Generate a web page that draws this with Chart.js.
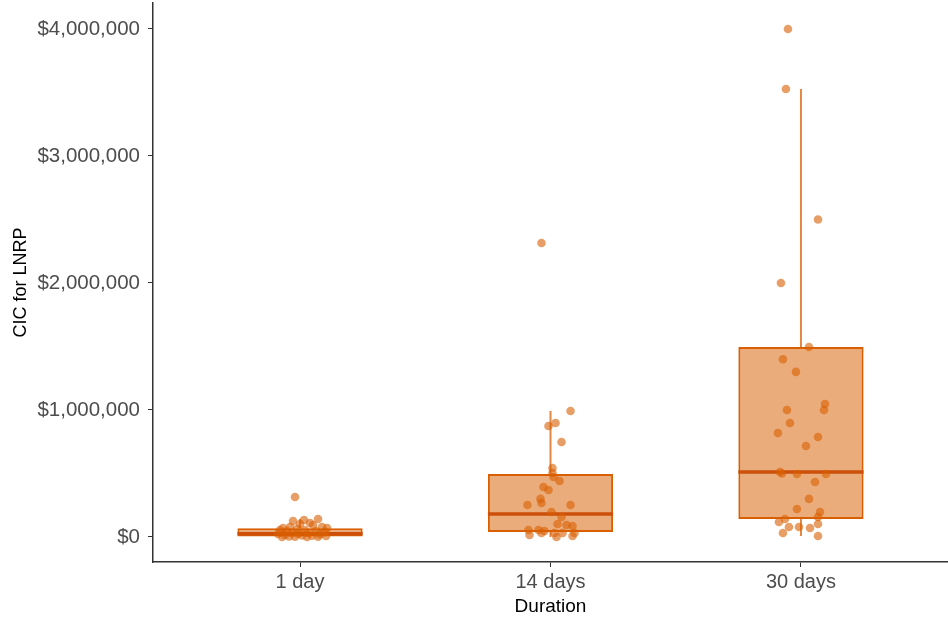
<!DOCTYPE html>
<html>
<head>
<meta charset="utf-8">
<script src="https://cdn.jsdelivr.net/npm/chart.js@4/dist/chart.umd.min.js"></script>
<style>
  html, body { margin: 0; padding: 0; background: #ffffff; }
  #wrap { width: 948px; height: 618px; position: relative; }
</style>
</head>
<body>
<div id="wrap"><canvas id="c" width="948" height="618"></canvas></div>
<script>
// ---- Data ----
const categories = ['1 day', '14 days', '30 days'];

// Box statistics per category (USD)
const whiskerLow  = [0, 0, 8000];
const q1Values    = [3000, 39000, 142000];
const medians     = [25000, 181000, 512000];
const q3Values    = [68000, 496000, 1496000];
const whiskerHigh = [142000, 992000, 3527000];

// Jittered observations: value (USD) and horizontal jitter (fraction of category step)
const day1Values = [315000, 142000, 134000, 126000, 110000, 94000, 102000, 79000, 79000, 71000, 71000, 63000, 55000, 47000, 55000, 47000, 40000, 31000, 31000, 24000, 24000, 20000, 16000, 12000, 10000, 8000, 5000, 3000, 2000, 1000, 0];
const day1Jitter = [-0.020, 0.072, 0.016, -0.028, 0.040, 0.052, 0.000, -0.040, 0.088, -0.068, 0.108, -0.012, -0.080, -0.052, 0.020, 0.064, 0.100, -0.032, 0.032, -0.088, -0.008, 0.080, -0.060, 0.008, 0.048, 0.104, -0.044, -0.020, 0.072, -0.072, 0.028];

const day14Values = [2315000, 992000, 874000, 898000, 748000, 543000, 504000, 472000, 441000, 394000, 370000, 300000, 268000, 252000, 252000, 197000, 157000, 102000, 94000, 87000, 55000, 55000, 47000, 16000, 31000, 31000, 0, 31000, 31000, 8000];
const day14Jitter = [-0.036, 0.080, -0.008, 0.020, 0.044, 0.008, 0.008, 0.012, 0.036, -0.028, -0.008, -0.040, -0.036, -0.092, 0.080, 0.004, 0.044, 0.028, 0.064, 0.088, -0.088, -0.048, -0.024, -0.084, -0.036, 0.016, 0.024, 0.048, 0.096, 0.088];

const day30Values = [4000000, 3527000, 2500000, 2000000, 1496000, 1400000, 1300000, 1047000, 1000000, 1000000, 898000, 819000, 787000, 717000, 512000, 500000, 496000, 496000, 433000, 300000, 220000, 197000, 157000, 142000, 118000, 102000, 79000, 79000, 71000, 31000, 8000];
const day30Jitter = [-0.052, -0.060, 0.068, -0.080, 0.032, -0.072, -0.020, 0.096, 0.092, -0.056, -0.044, -0.092, 0.068, 0.020, -0.084, -0.076, -0.016, 0.100, 0.056, 0.032, -0.016, 0.076, 0.068, -0.064, -0.088, 0.068, -0.048, -0.008, 0.036, -0.072, 0.068];

const yTickValues = [0, 1000000, 2000000, 3000000, 4000000];

// ---- Build datasets from the arrays ----
const groupValues = [day1Values, day14Values, day30Values];
const groupJitter = [day1Jitter, day14Jitter, day30Jitter];
const boxHalf = 0.25;

const pointData = [];
groupValues.forEach((vals, g) => {
  vals.forEach((v, i) => pointData.push({ x: g + 1 + groupJitter[g][i], y: v }));
});

const boxData = categories.map((c, i) => ({ x: i + 1, y: [q1Values[i], q3Values[i]] }));

const medianData = [];
const whiskerData = [];
categories.forEach((c, i) => {
  const xc = i + 1;
  medianData.push({ x: xc - boxHalf, y: medians[i] }, { x: xc + boxHalf, y: medians[i] }, { x: xc, y: null });
  whiskerData.push({ x: xc, y: q3Values[i] }, { x: xc, y: whiskerHigh[i] }, { x: xc, y: null });
  whiskerData.push({ x: xc, y: q1Values[i] }, { x: xc, y: whiskerLow[i] }, { x: xc, y: null });
});

const orange = 'rgb(217,95,2)';
const FONT = '"Liberation Sans", Arial, Helvetica, sans-serif';

new Chart(document.getElementById('c'), {
  type: 'scatter',
  data: {
    datasets: [
      {
        type: 'scatter',
        data: pointData,
        backgroundColor: 'rgba(217,95,2,0.6)',
        borderWidth: 0,
        pointRadius: 4.3,
        order: 0
      },
      {
        type: 'line',
        data: medianData,
        borderColor: 'rgb(205,80,10)',
        borderWidth: 3.5,
        pointRadius: 0,
        spanGaps: false,
        fill: false,
        order: 1
      },
      {
        type: 'bar',
        data: boxData,
        backgroundColor: 'rgba(217,95,2,0.52)',
        borderColor: orange,
        borderWidth: 2,
        borderSkipped: false,
        categoryPercentage: 1,
        barPercentage: 0.5,
        order: 2
      },
      {
        type: 'line',
        data: whiskerData,
        borderColor: 'rgba(217,95,2,0.75)',
        borderWidth: 2,
        pointRadius: 0,
        spanGaps: false,
        fill: false,
        order: 3
      }
    ]
  },
  options: {
    responsive: false,
    animation: false,
    devicePixelRatio: 1,
    layout: { autoPadding: false, padding: { top: 3, right: 0, left: 0, bottom: 0 } },
    plugins: { legend: { display: false }, tooltip: { enabled: false } },
    scales: {
      x: {
        type: 'linear',
        min: 0.413,
        max: 3.587,
        offset: false,
        afterBuildTicks: (scale) => { scale.ticks = categories.map((c, i) => ({ value: i + 1 })); },
        afterFit: (scale) => { scale.height = 56; scale.paddingLeft = 0; scale.paddingRight = 0; },
        ticks: {
          autoSkip: false,
          maxRotation: 0,
          padding: 3,
          color: '#4d4d4d',
          font: { family: FONT, size: 20 },
          callback: (v) => categories[Math.round(v) - 1]
        },
        grid: { display: true, drawOnChartArea: false, drawTicks: true, tickLength: 5, color: '#333333', offset: false },
        border: { display: true, color: '#333333', width: 1.5 },
        title: { display: true, text: 'Duration', color: '#000000', font: { family: FONT, size: 19 }, padding: { top: 0, bottom: 0 } }
      },
      y: {
        type: 'linear',
        min: -196900,
        max: 4204700,
        afterBuildTicks: (scale) => { scale.ticks = yTickValues.map(v => ({ value: v })); },
        afterFit: (scale) => { scale.width = 153; scale.paddingTop = 0; scale.paddingBottom = 0; },
        ticks: {
          padding: 8,
          color: '#4d4d4d',
          font: { family: FONT, size: 20.5 },
          callback: (v) => '$' + Number(v).toLocaleString('en-US')
        },
        grid: { display: true, drawOnChartArea: false, drawTicks: true, tickLength: 5, color: '#333333' },
        border: { display: true, color: '#333333', width: 1.5 },
        title: { display: true, text: 'CIC for LNRP', color: '#000000', font: { family: FONT, size: 18 }, padding: { top: 10, bottom: 0 } }
      }
    }
  }
});
</script>
</body>
</html>
